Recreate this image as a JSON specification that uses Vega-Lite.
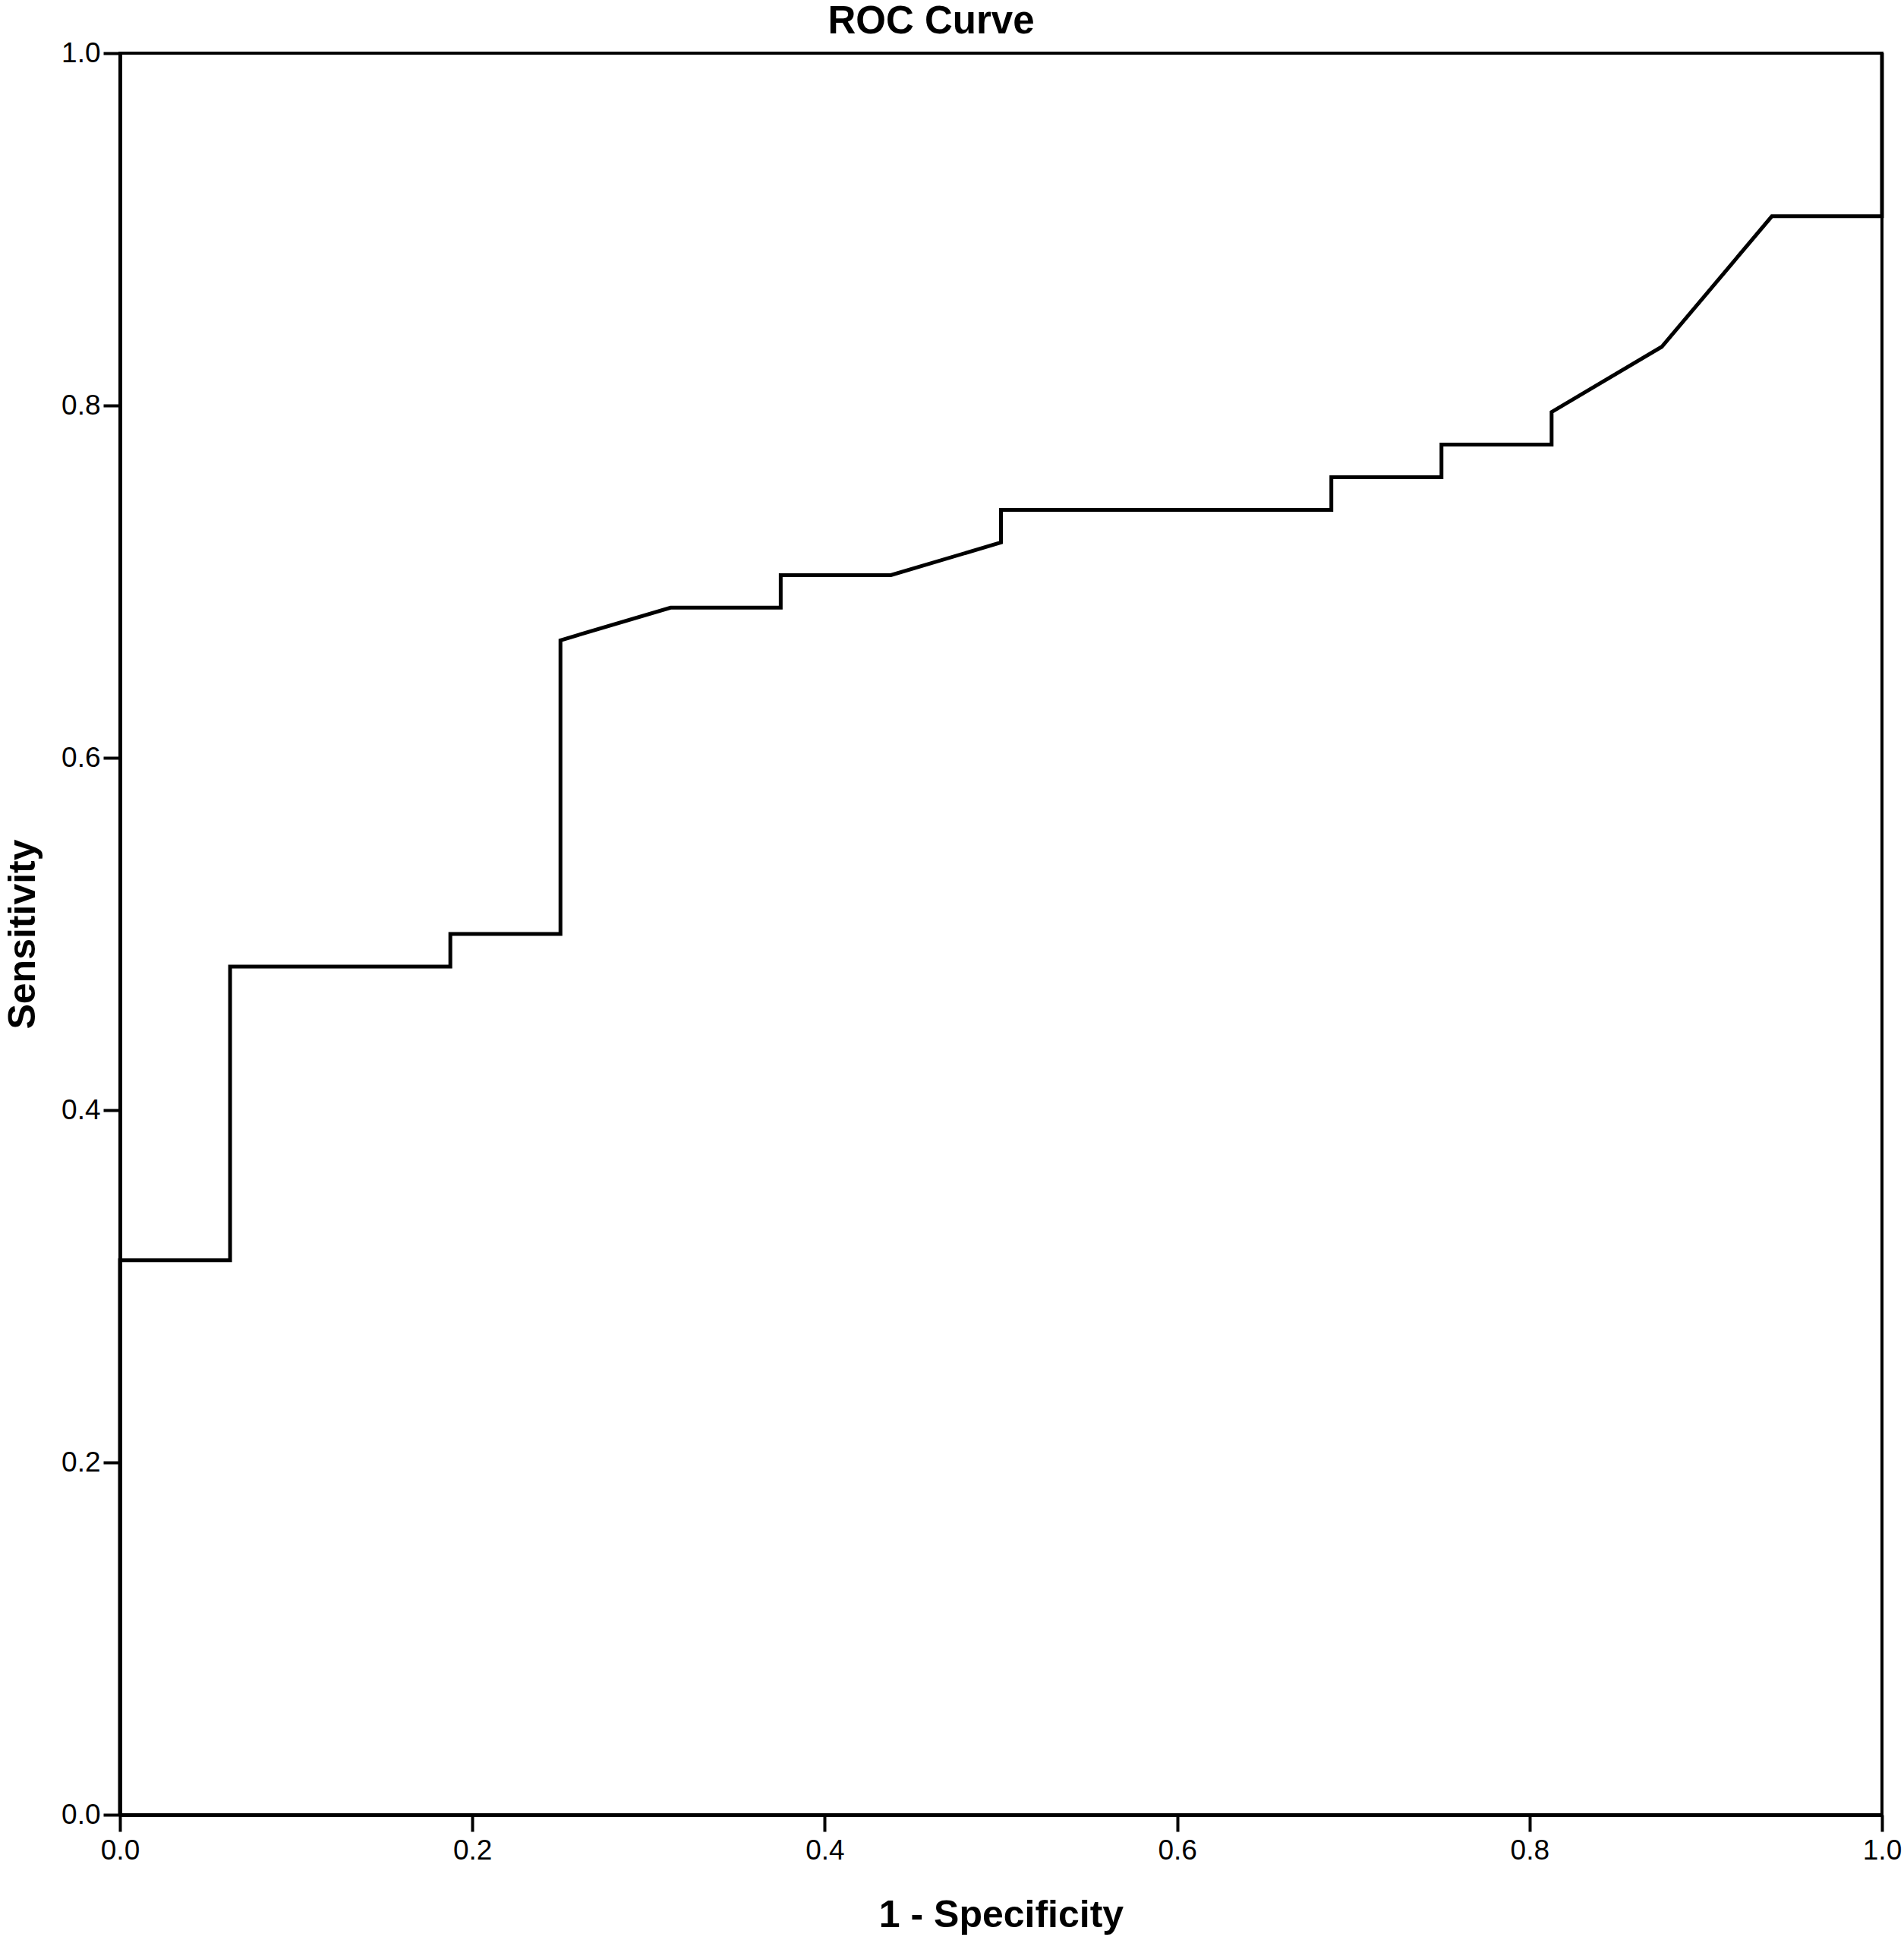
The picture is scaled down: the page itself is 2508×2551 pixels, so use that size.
{
  "$schema": "https://vega.github.io/schema/vega-lite/v6.json",
  "autosize": {"type": "none"},
  "padding": {"left": 158, "top": 70, "right": 29, "bottom": 161},
  "width": 2321,
  "height": 2320,
  "background": "white",
  "title": {
    "text": "ROC Curve",
    "anchor": "middle",
    "frame": "group",
    "baseline": "alphabetic",
    "offset": -44,
    "dx": -92,
    "font": "Liberation Sans",
    "fontSize": 51,
    "fontWeight": "bold",
    "color": "black"
  },
  "config": {
    "view": {"stroke": "black", "strokeWidth": 4},
    "axis": {
      "domainColor": "black",
      "domainWidth": 5,
      "tickColor": "black",
      "tickWidth": 4,
      "tickSize": 22,
      "grid": false,
      "labelFlush": false,
      "labelFont": "Liberation Sans",
      "labelFontSize": 37,
      "labelColor": "black",
      "titleFont": "Liberation Sans",
      "titleFontSize": 50,
      "titleFontWeight": "bold",
      "titleColor": "black"
    }
  },
  "data": {
    "values": [
      {"i": 0, "fpr": 0, "tpr": 0},
      {"i": 1, "fpr": 0, "tpr": 0.3148},
      {"i": 2, "fpr": 0.0625, "tpr": 0.3148},
      {"i": 3, "fpr": 0.0625, "tpr": 0.4815},
      {"i": 4, "fpr": 0.1875, "tpr": 0.4815},
      {"i": 5, "fpr": 0.1875, "tpr": 0.5},
      {"i": 6, "fpr": 0.25, "tpr": 0.5},
      {"i": 7, "fpr": 0.25, "tpr": 0.6667},
      {"i": 8, "fpr": 0.3125, "tpr": 0.6852},
      {"i": 9, "fpr": 0.375, "tpr": 0.6852},
      {"i": 10, "fpr": 0.375, "tpr": 0.7037},
      {"i": 11, "fpr": 0.4375, "tpr": 0.7037},
      {"i": 12, "fpr": 0.5, "tpr": 0.7222},
      {"i": 13, "fpr": 0.5, "tpr": 0.7407},
      {"i": 14, "fpr": 0.6875, "tpr": 0.7407},
      {"i": 15, "fpr": 0.6875, "tpr": 0.7593},
      {"i": 16, "fpr": 0.75, "tpr": 0.7593},
      {"i": 17, "fpr": 0.75, "tpr": 0.7778},
      {"i": 18, "fpr": 0.8125, "tpr": 0.7778},
      {"i": 19, "fpr": 0.8125, "tpr": 0.7963},
      {"i": 20, "fpr": 0.875, "tpr": 0.8333},
      {"i": 21, "fpr": 0.9375, "tpr": 0.9074},
      {"i": 22, "fpr": 1, "tpr": 0.9074},
      {"i": 23, "fpr": 1, "tpr": 1}
    ]
  },
  "mark": {"type": "line", "color": "black", "strokeWidth": 5, "strokeJoin": "miter", "clip": false},
  "encoding": {
    "x": {
      "field": "fpr",
      "type": "quantitative",
      "scale": {"domain": [0, 1], "nice": false, "zero": false},
      "axis": {
        "title": "1 - Specificity",
        "values": [0, 0.2, 0.4, 0.6, 0.8, 1.0],
        "format": ".1f",
        "labelPadding": 7,
        "titleBaseline": "alphabetic",
        "titleY": 147
      }
    },
    "y": {
      "field": "tpr",
      "type": "quantitative",
      "scale": {"domain": [0, 1], "nice": false, "zero": false},
      "axis": {
        "title": "Sensitivity",
        "values": [0, 0.2, 0.4, 0.6, 0.8, 1.0],
        "format": ".1f",
        "labelPadding": 4,
        "titleAngle": -90,
        "titleBaseline": "alphabetic",
        "titleX": -113,
        "titleY": 1160
      }
    },
    "order": {"field": "i", "type": "quantitative"}
  }
}
